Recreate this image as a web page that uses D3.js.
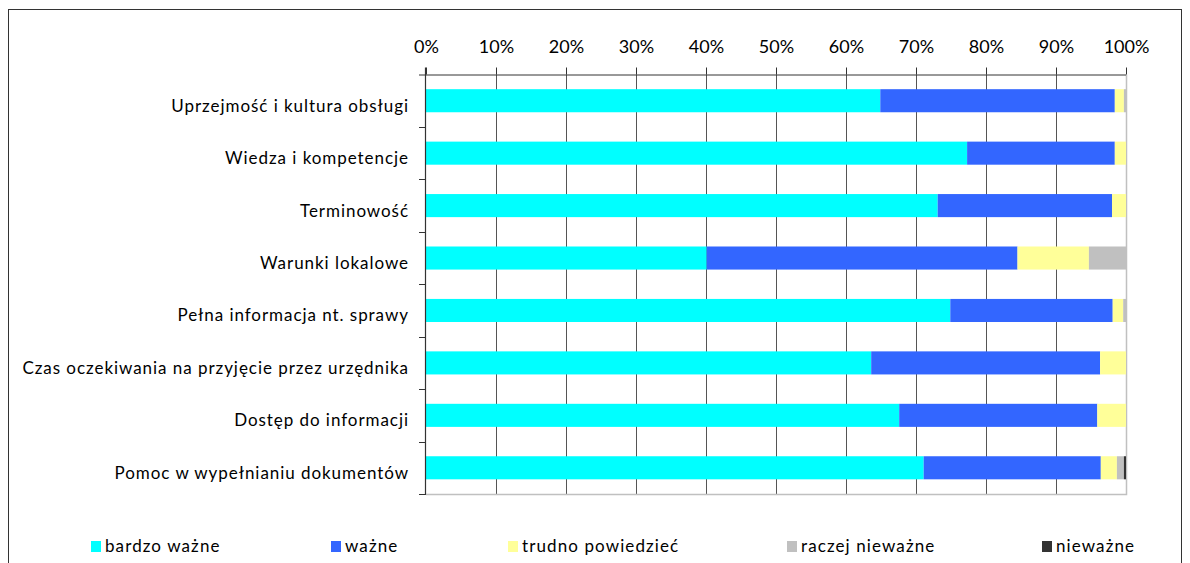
<!DOCTYPE html>
<html>
<head>
<meta charset="utf-8">
<script src="https://cdn.jsdelivr.net/npm/d3@7"></script>
<style>
  html, body { margin: 0; padding: 0; background: #fff; }
  svg { display: block; font-family: Lato, "Open Sans", sans-serif; }
</style>
</head>
<body>
<svg id="chart" width="1190" height="563"></svg>
<script>
// Survey categories (top to bottom)
const categories = [
  "Uprzejmość i kultura obsługi",
  "Wiedza i kompetencje",
  "Terminowość",
  "Warunki lokalowe",
  "Pełna informacja nt. sprawy",
  "Czas oczekiwania na przyjęcie przez urzędnika",
  "Dostęp do informacji",
  "Pomoc w wypełnianiu dokumentów"
];

// Answer series (percent of respondents)
const seriesNames = ["bardzo ważne", "ważne", "trudno powiedzieć", "raczej nieważne", "nieważne"];
const bardzoWazne      = [64.9, 77.3, 73.1, 40.1, 74.9, 63.6, 67.6, 71.1];
const wazne            = [33.5, 21.1, 24.9, 44.4, 23.2, 32.7, 28.3, 25.3];
const trudnoPowiedziec = [1.3, 1.6, 2.0, 10.2, 1.5, 3.7, 4.1, 2.3];
const raczejNiewazne   = [0.3, 0.0, 0.0, 5.3, 0.4, 0.0, 0.0, 1.0];
const niewazne         = [0.0, 0.0, 0.0, 0.0, 0.0, 0.0, 0.0, 0.3];

const tickValues = [0, 10, 20, 30, 40, 50, 60, 70, 80, 90, 100];
const colors = ["#00FFFF", "#3366FF", "#FFFF99", "#C0C0C0", "#333333"];

const rows = categories.map((c, i) => ({
  category: c,
  "bardzo ważne": bardzoWazne[i],
  "ważne": wazne[i],
  "trudno powiedzieć": trudnoPowiedziec[i],
  "raczej nieważne": raczejNiewazne[i],
  "nieważne": niewazne[i]
}));

const svg = d3.select("#chart");

// Outer frame
svg.append("rect")
  .attr("x", 8.5).attr("y", 9.5)
  .attr("width", 1173).attr("height", 600)
  .attr("fill", "none").attr("stroke", "#333").attr("stroke-width", 1);

const plot = { left: 426, right: 1126, top: 74.5, bottom: 494 };

const x = d3.scaleLinear().domain([0, 100]).range([plot.left, plot.right]);
const y = d3.scaleBand().domain(categories).range([plot.top, plot.bottom]).paddingInner(0.56).paddingOuter(0.28);

// Vertical gridlines
svg.append("g")
  .selectAll("line")
  .data(tickValues.filter(v => v > 0 && v < 100))
  .join("line")
  .attr("x1", d => Math.round(x(d)) + 0.5).attr("x2", d => Math.round(x(d)) + 0.5)
  .attr("y1", plot.top).attr("y2", plot.bottom)
  .attr("stroke", "#555").attr("stroke-width", 1);

// Plot area right and bottom border
svg.append("path")
  .attr("d", `M${plot.left},${plot.bottom + 0.5}H${plot.right + 0.5}V${plot.top}`)
  .attr("fill", "none").attr("stroke", "#C0C0C0").attr("stroke-width", 1.5);

// Stacked bars
const stack = d3.stack().keys(seriesNames)(rows);
svg.append("g")
  .selectAll("g")
  .data(stack)
  .join("g")
  .attr("fill", (d, i) => colors[i])
  .selectAll("rect")
  .data(d => d)
  .join("rect")
  .attr("x", d => x(d[0]))
  .attr("y", d => y(d.data.category))
  .attr("width", d => Math.max(0, x(d[1]) - x(d[0])))
  .attr("height", y.bandwidth());

// Top percentage axis
const xAxis = svg.append("g")
  .attr("transform", `translate(0,${plot.top})`)
  .call(d3.axisTop(x).tickValues(tickValues).tickFormat(d => d + "%").tickSize(7).tickSizeOuter(0));
xAxis.select(".domain").attr("d", `M${plot.left - 7},0.5H${plot.right}`).attr("stroke", "#333");
xAxis.selectAll(".tick line").attr("stroke", "#333");
xAxis.selectAll(".tick text")
  .attr("y", -22)
  .attr("font-size", 18)
  .attr("font-family", "Lato, sans-serif")
  .attr("fill", "#000");

// Left category axis
svg.append("line")
  .attr("x1", plot.left - 0.5).attr("x2", plot.left - 0.5)
  .attr("y1", plot.top - 7).attr("y2", plot.bottom + 0.5)
  .attr("stroke", "#333").attr("stroke-width", 1.2);

const boundaries = d3.range(categories.length + 1).map(i => plot.top + i * (plot.bottom - plot.top) / categories.length);
svg.append("g")
  .selectAll("line")
  .data(boundaries.slice(1))
  .join("line")
  .attr("x1", plot.left - 7).attr("x2", plot.left)
  .attr("y1", d => Math.round(d) + 0.5).attr("y2", d => Math.round(d) + 0.5)
  .attr("stroke", "#333");

svg.append("g")
  .selectAll("text")
  .data(categories)
  .join("text")
  .attr("x", 409)
  .attr("y", d => y(d) + y.bandwidth() / 2 + 11)
  .attr("text-anchor", "end")
  .attr("font-size", 17)
  .attr("letter-spacing", 0.95)
  .attr("fill", "#000")
  .text(d => d);

// Legend
const legendX = [91, 331, 508, 787, 1042];
const legend = svg.append("g")
  .selectAll("g")
  .data(seriesNames)
  .join("g")
  .attr("transform", (d, i) => `translate(${legendX[i]},541)`);
legend.append("rect")
  .attr("width", 10).attr("height", 11)
  .attr("fill", (d, i) => colors[i]);
legend.append("text")
  .attr("x", 14).attr("y", 11)
  .attr("font-size", 17)
  .attr("letter-spacing", 1.1)
  .attr("fill", "#000")
  .text(d => d);
</script>
</body>
</html>
